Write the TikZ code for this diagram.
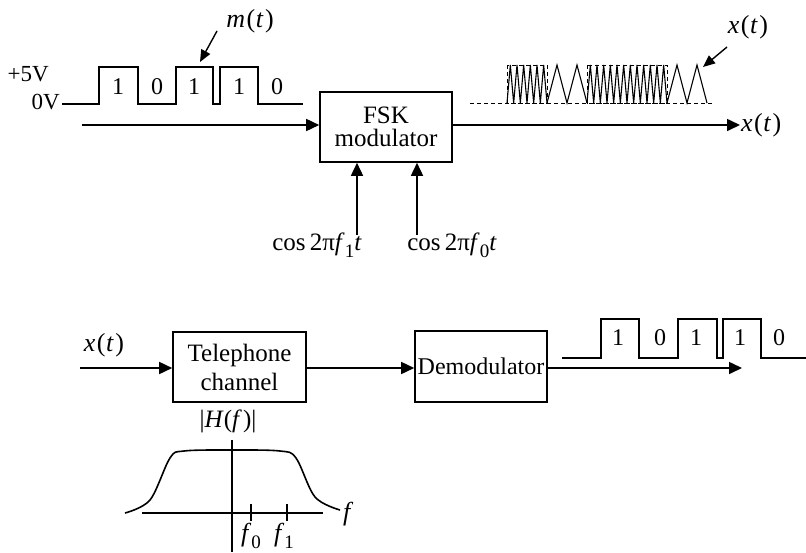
\documentclass[tikz,border=0pt]{standalone}
\usepackage{fontspec}
\setmainfont{Liberation Serif}
\usetikzlibrary{arrows.meta}
\newcommand{\sigof}[2]{\textit{#1}\kern1.5pt(\kern0.5pt\textit{#2}\kern1.5pt)}
\newcommand{\lowsub}[1]{\raisebox{-0.3em}{\fontsize{19}{19}\selectfont #1}}
\tikzset{
  ptr/.style={-{Triangle[length=13pt,width=12pt]},line width=1.6pt},
  blk/.style={draw,line width=1.6pt,inner sep=0pt,align=center,font=\fontsize{25}{23}\selectfont},
  lbl/.style={inner sep=1pt,font=\fontsize{24}{26}\selectfont},
  mlbl/.style={inner sep=1pt,font=\fontsize{26}{28}\selectfont},
  sig/.style={line width=1.6pt},
  wave/.style={line width=1.1pt,line join=miter},
  guide/.style={line width=1pt,dash pattern=on 4pt off 3pt}
}
\begin{document}
\begin{tikzpicture}[x=1pt,y=-1pt]
\path[use as bounding box] (0,0) rectangle (806,552);
% transmitter
\node[blk,minimum width=132pt,minimum height=70pt] (fsk) at (386,127) {FSK\\modulator};
\node[lbl,anchor=east,font=\fontsize{23}{24}\selectfont] (hi) at (50,74) {+5V};
\node[lbl,anchor=east,font=\fontsize{23}{24}\selectfont] (lo) at (61,102) {0V};
\draw[sig] (62,104) -- (99,104) -- (99,67) -- (138,67) -- (138,104) -- (176,104) -- (176,67) -- (213,67)
  -- (213,104) -- (220,104) -- (220,67) -- (258,67) -- (258,104) -- (303,104);
\node[lbl] (b1) at (118,87) {1};
\node[lbl] (b2) at (157,87) {0};
\node[lbl] (b3) at (194,87) {1};
\node[lbl] (b4) at (239,87) {1};
\node[lbl] (b5) at (277,87) {0};
\node[mlbl] (mt) at (250,21) {\sigof{m}{t}};
\coordinate (mtail) at (217,31);
\coordinate (mtip) at (200,62);
\draw[-{Triangle[length=12pt,width=10pt]},line width=1.4pt] (mtail) -- (mtip);
\coordinate (in) at (82,125);
\draw[ptr] (in) -- (in -| fsk.west);
\node[mlbl,anchor=base,font=\fontsize{25}{28}\selectfont] (c1) at (317,250) {cos\,2π\textit{f}\lowsub{1}\textit{t}};
\node[mlbl,anchor=base,font=\fontsize{25}{28}\selectfont] (c0) at (452,250) {cos\,2π\textit{f}\lowsub{0}\textit{t}};
\coordinate (c1in) at (357,235);
\coordinate (c0in) at (417,235);
\draw[ptr] (c1in) -- (c1in |- fsk.south);
\draw[ptr] (c0in) -- (c0in |- fsk.south);
\node[mlbl,anchor=west] (xo) at (740,125) {\sigof{x}{t}};
\draw[ptr] (fsk.east |- in) -- (xo.west);
% FSK waveform
\draw[guide] (470,103) -- (713,103);
\draw[guide] (507,65) rectangle (547,103);
\draw[guide] (587,65) rectangle (667,103);
\foreach \s/\w/\n in {507/40/6,547/40/2,587/80/12,667/40/2}{
  \draw[wave] (\s,103) \foreach \k in {1,...,\n}{ -- ++({\w/\n/2},-38) -- ++({\w/\n/2},38)};
}
\node[mlbl] (xt) at (748,27) {\sigof{x}{t}};
\coordinate (xtail) at (727,47);
\coordinate (xtip) at (703,67);
\draw[-{Triangle[length=12pt,width=10pt]},line width=1.4pt] (xtail) -- (xtip);
% receiver
\node[blk,minimum width=133pt,minimum height=70pt,font=\fontsize{25}{29}\selectfont] (tel) at (239.5,367) {Telephone\\channel};
\node[blk,minimum width=132pt,minimum height=71pt,font=\fontsize{24}{26}\selectfont] (dem) at (481,366.5) {Demodulator};
\node[mlbl] (xi) at (104,345) {\sigof{x}{t}};
\coordinate (rin) at (80,368);
\draw[ptr] (rin) -- (rin -| tel.west);
\draw[ptr] (tel.east |- rin) -- (dem.west |- rin);
\coordinate (rout) at (742,368);
\draw[ptr] (dem.east |- rout) -- (rout);
\draw[sig] (562,358) -- (601,358) -- (601,319) -- (639,319) -- (639,358) -- (678,358) -- (678,319) -- (717,319)
  -- (717,358) -- (723,358) -- (723,319) -- (761,319) -- (761,358) -- (806,358);
\node[lbl] (r1) at (618,338) {1};
\node[lbl] (r2) at (660,338) {0};
\node[lbl] (r3) at (696,338) {1};
\node[lbl] (r4) at (740,338) {1};
\node[lbl] (r5) at (779,338) {0};
% channel response
\node[mlbl,font=\fontsize{25}{28}\selectfont] (hf) at (228,421) {|\textit{H}(\textit{f}\kern1pt)|};
\draw[sig] (232,440) -- (232,552);
\draw[sig] (142,513) -- (323,513);
\draw[sig] (251,504) -- (251,521);
\draw[sig] (287,504) -- (287,521);
\draw[sig] plot[smooth,tension=0.55] coordinates {(125,513) (150,500) (170,458) (184,451) (232,450) (280,451) (296,458) (315,497) (340,510)};
\node[mlbl,anchor=base west] (fx) at (342,520) {\textit{f}};
\node[mlbl,anchor=base] (f0) at (251,541) {\textit{f}\lowsub{0}};
\node[mlbl,anchor=base] (f1) at (284,541) {\textit{f}\lowsub{1}};
\end{tikzpicture}
\end{document}
